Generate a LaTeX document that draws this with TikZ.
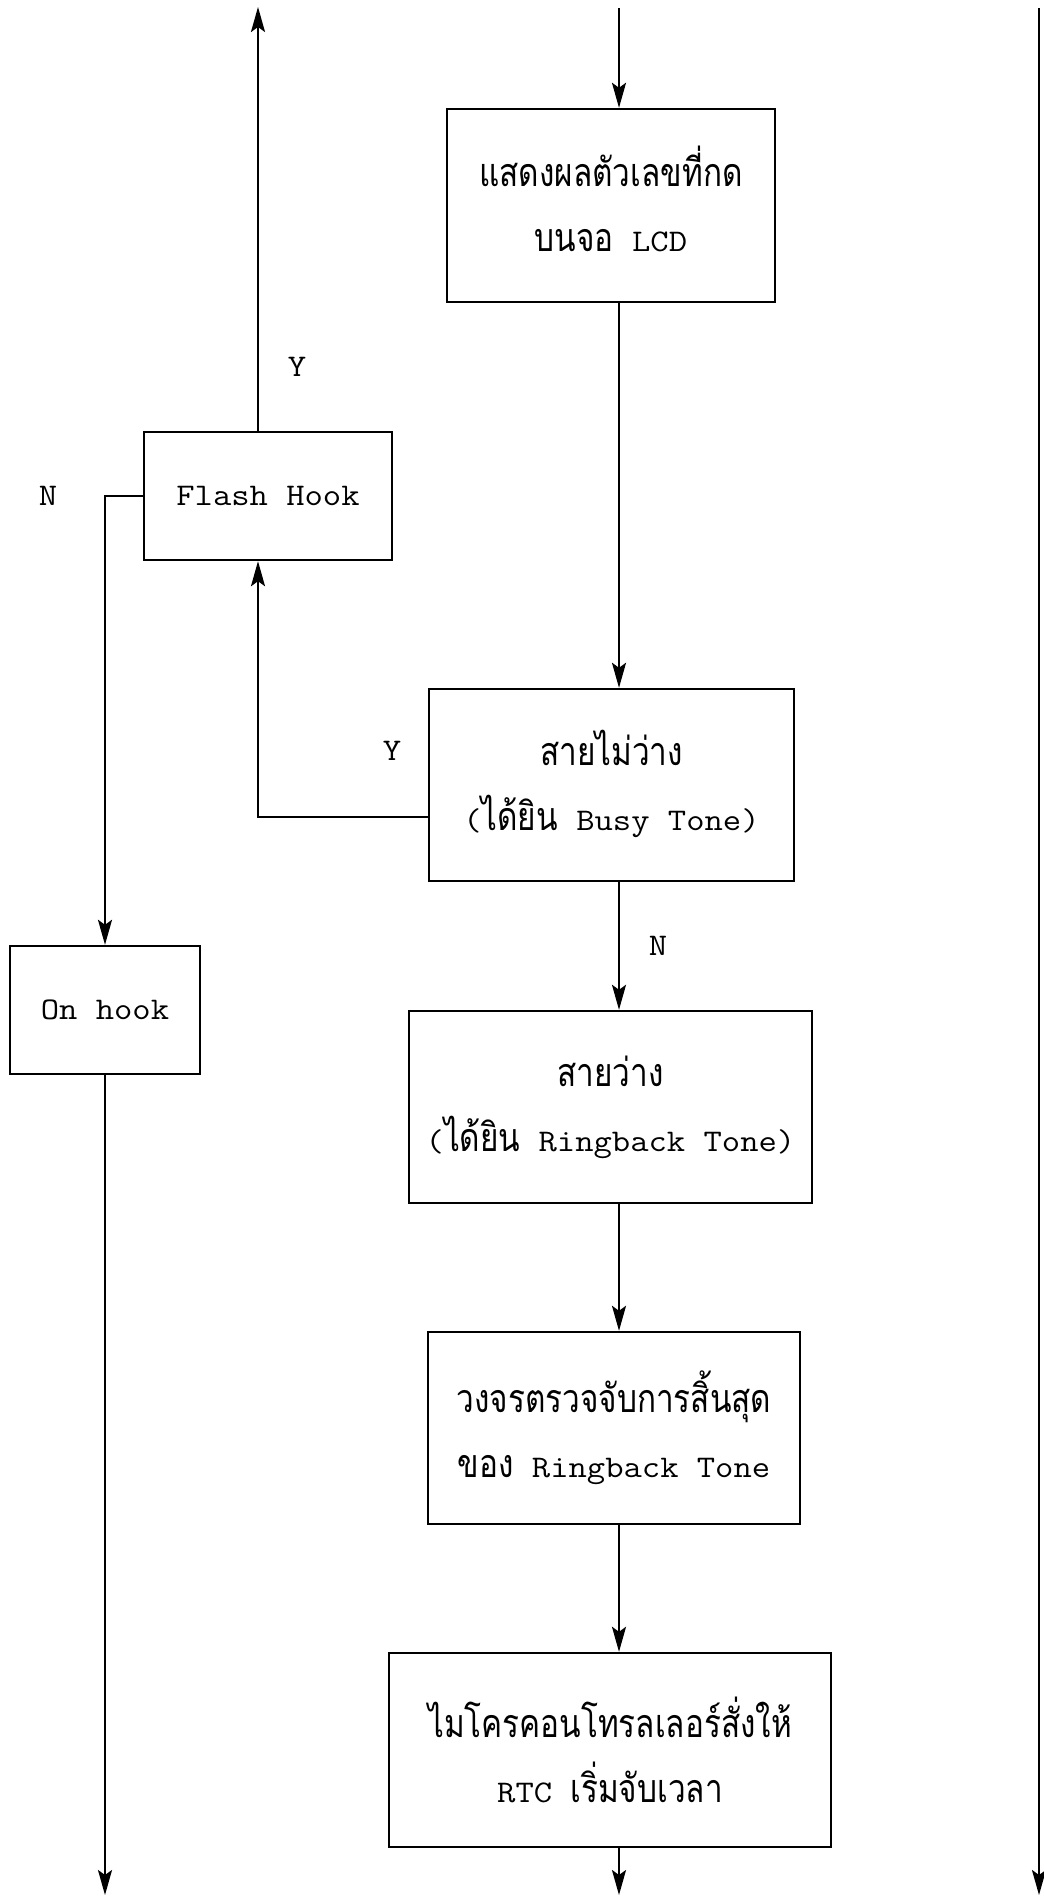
\documentclass[tikz,border=0pt]{standalone}
\usepackage{fontspec}
\setmonofont{Latin Modern Mono}[FakeStretch=1.13]
\newfontfamily\thaifont[Script=Thai,Scale=1.25,FakeStretch=0.8]{Loma}
\newcommand\thaitxt[1]{{\thaifont #1}}
\newcommand\uptext[2]{\raisebox{#1}{\begin{tabular}{@{}c@{}}#2\end{tabular}}}
\usetikzlibrary{arrows.meta}
\begin{document}
\begin{tikzpicture}[x=1pt,y=-1pt, line width=2.2pt,
  box/.style={draw, rectangle, inner sep=0pt, align=center, font=\ttfamily\fontsize{31.5pt}{65pt}\selectfont, line width=2.4pt},
  lbl/.style={font=\ttfamily\fontsize{31.5pt}{36pt}\selectfont, inner sep=0pt},
  arr/.style={-{Stealth[length=25pt,width=14pt,inset=5pt]}}]
\useasboundingbox (0,0) rectangle (1044,1898);
% boxes
\node[box, minimum width=328pt, minimum height=193pt] (lcd) at (611,205.5) {\uptext{6pt}{\thaitxt{แสดงผลตัวเลขที่กด}\\\thaitxt{บนจอ} LCD}};
\node[box, minimum width=248pt, minimum height=128pt] (flash) at (268,496) {Flash Hook};
\node[box, minimum width=365pt, minimum height=192pt] (busy) at (611.5,785) {\uptext{5pt}{\thaitxt{สายไม่ว่าง}\\(\thaitxt{ได้ยิน} Busy Tone)}};
\node[box, minimum width=190pt, minimum height=128pt] (onhook) at (105,1010) {On hook};
\node[box, minimum width=403pt, minimum height=192pt] (ring) at (610.5,1107) {\thaitxt{สายว่าง}\\(\thaitxt{ได้ยิน} Ringback Tone)};
\node[box, minimum width=372pt, minimum height=192pt] (det) at (614,1428) {\thaitxt{วงจรตรวจจับการสิ้นสุด}\\\thaitxt{ของ} Ringback Tone};
\node[box, minimum width=442pt, minimum height=194pt] (mc) at (610,1750) {\thaitxt{ไมโครคอนโทรลเลอร์สั่งให้}\\RTC \thaitxt{เริ่มจับเวลา}};
% labels
\node[lbl] (y1) at (297,367) {Y};
\node[lbl] (n1) at (48,496) {N};
\node[lbl] (y2) at (392,751) {Y};
\node[lbl] (n2) at (658,946) {N};
% coordinates
\coordinate (cin) at (619,8);
\coordinate (mcout) at (619,1895);
\coordinate (lx) at (258,0);
\coordinate (fout) at (258,7);
\coordinate (by) at (0,817);
\coordinate (ohout) at (105,1895);
\coordinate (r0) at (1039,8);
\coordinate (r1) at (1039,1895);
% connectors
\draw[arr] (cin) -- (cin |- lcd.north);
\draw[arr] (lcd.south -| cin) -- (busy.north -| cin);
\draw[arr] (busy.south -| cin) -- (ring.north -| cin);
\draw[arr] (ring.south -| cin) -- (det.north -| cin);
\draw[arr] (det.south -| cin) -- (mc.north -| cin);
\draw[arr] (mc.south -| cin) -- (mcout);
\draw[arr] (flash.north -| lx) -- (fout);
\draw[arr] (busy.west |- by) -| (flash.south -| lx);
\draw[arr] (flash.west) -| (onhook.north);
\draw[arr] (onhook.south) -- (ohout);
\draw[arr] (r0) -- (r1);
\end{tikzpicture}
\end{document}
